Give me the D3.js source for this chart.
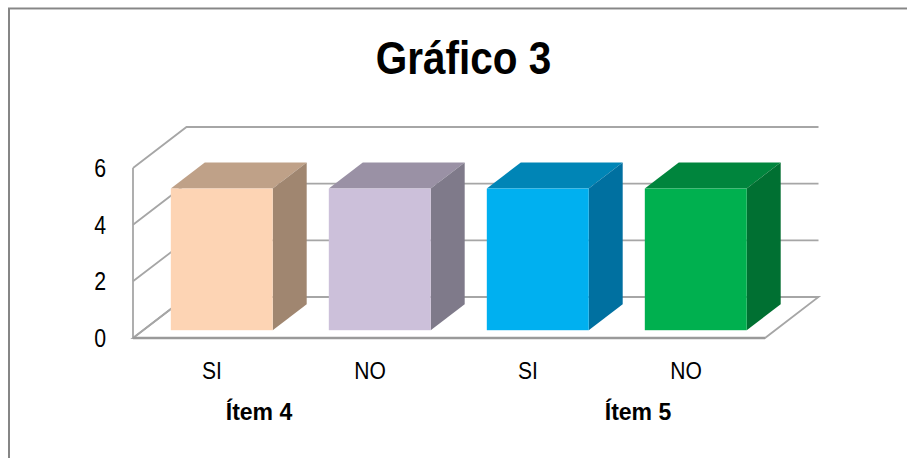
<!DOCTYPE html>
<html><head><meta charset="utf-8">
<script src="https://cdnjs.cloudflare.com/ajax/libs/d3/7.8.5/d3.min.js"></script>
<style>html,body{margin:0;padding:0;background:#fff;overflow:hidden}svg{display:block}
text{font-family:"Liberation Sans",sans-serif;fill:#000}</style>
</head><body><script>
const categories=["SI","NO","SI","NO"];
const groups=[{label:"Ítem 4",from:0,to:1},{label:"Ítem 5",from:2,to:3}];
const values=[5,5,5,5];
const faceColors=["#FDD4B4","#CCC0DA","#00B0F0","#00B050"];
const topColors=["#BFA188","#9A91A5","#0085B6","#00853C"];
const sideColors=["#A08670","#7F7A8A","#006FA0","#006F30"];
const yTicks=[0,2,4,6];

const W=907,H=458;
const svg=d3.select("body").append("svg").attr("width",W).attr("height",H);
const defs=svg.append("defs");
defs.append("filter").attr("id","soft").append("feGaussianBlur").attr("stdDeviation",0.55);

// frame: only the top and left edges fall inside the picture
svg.append("path").attr("d",`M${W},8.5H9V${H}`).attr("fill","none").attr("stroke","#868686").attr("stroke-width",2);
svg.append("path").attr("d",`M${W},9.5H10`).attr("fill","none").attr("stroke","#c8c8c8").attr("stroke-width",1);

const x=d3.scaleBand().domain(d3.range(categories.length)).range([133,765]);
const y=d3.scaleLinear().domain([0,6]).range([338,168]);
const DX=53.5,DY=-41;
const P=(px,py,d)=>[px+DX*d,py+DY*d];
const line=d3.line();
const poly=pts=>line(pts)+"Z";

const gridG=svg.append("g").attr("filter","url(#soft)");
const gs="#a6a6a6";
gridG.append("path").attr("d",poly([P(133,y(0),0),P(765,y(0),0),P(765,y(0),1),P(133,y(0),1)]))
 .attr("fill","#fff").attr("stroke",gs).attr("stroke-width",1.8);
gridG.append("path").attr("d",line([P(133,y(0),0),P(133,y(6),0)])).attr("fill","none").attr("stroke",gs).attr("stroke-width",1.8);
yTicks.forEach(t=>{
  gridG.append("path").attr("d",line([P(133,y(t),0),P(133,y(t),1),P(765,y(t),1)]))
    .attr("fill","none").attr("stroke",gs).attr("stroke-width",1.8);
});
gridG.append("path").attr("d",line([P(133,y(0),0),P(765,y(0),0)])).attr("stroke","#9a9a9a").attr("stroke-width",2.4).attr("fill","none");

const barG=svg.append("g").attr("filter","url(#soft)");
const bw=x.step()*0.645, d0=0.19, d1=0.825;
values.forEach((v,i)=>{
  const xl=x(i)+x.bandwidth()/2-bw/2-0.4;
  const l=xl+DX*d0, r=l+bw;
  const b=y(0)+DY*d0, t=y(v)+DY*d0;
  const dd=d1-d0;
  const g=barG.append("g");
  g.append("path").attr("d",poly([[l,t],[r,t],P(r,t,dd),P(l,t,dd)])).attr("fill",topColors[i]);
  g.append("path").attr("d",poly([[r,t],P(r,t,dd),P(r,b,dd),[r,b]])).attr("fill",sideColors[i]);
  g.append("rect").attr("x",l).attr("y",t).attr("width",bw).attr("height",b-t).attr("fill",faceColors[i]);
});

// Narrow lettering: regular face squeezed horizontally
const narrow=(sel,px,py,sx)=>sel.attr("transform",(d,i)=>`translate(${px(d,i)},${py(d,i)}) scale(${sx},1)`);

narrow(svg.append("g").selectAll("text").data(yTicks).join("text")
  .attr("text-anchor","end").attr("font-size",26).text(d=>d),()=>106,d=>y(d)+9,0.82);

narrow(svg.append("g").selectAll("text").data(categories).join("text")
  .attr("text-anchor","middle").attr("font-size",24.5).text(d=>d),(d,i)=>x(i)+x.bandwidth()/2,()=>379,0.86);

const groupShift=[-32,31];
narrow(svg.append("g").selectAll("text").data(groups).join("text")
  .attr("text-anchor","middle").attr("font-size",23.5).attr("font-weight","bold").text(d=>d.label),
  (d,i)=>(x(d.from)+x(d.to)+x.bandwidth())/2+groupShift[i],()=>420,0.98);

svg.append("text").attr("transform","translate(463.5,73.5) scale(0.88,1)").attr("text-anchor","middle")
  .attr("font-size",46).attr("font-weight","bold").text("Gráfico 3");
</script></body></html>
